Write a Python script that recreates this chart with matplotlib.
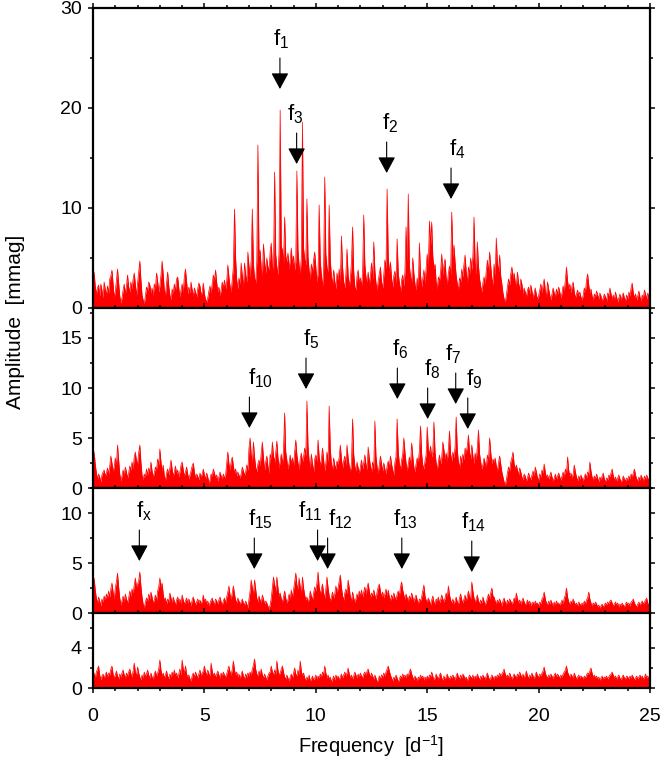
import numpy as np
import matplotlib
matplotlib.use("Agg")
import matplotlib.pyplot as plt
from matplotlib.ticker import MultipleLocator

plt.rcParams['font.family'] = ['Liberation Sans', 'DejaVu Sans']
plt.rcParams['mathtext.fontset'] = 'custom'
plt.rcParams['mathtext.rm'] = 'Liberation Sans'
plt.rcParams['mathtext.it'] = 'Liberation Sans'
plt.rcParams['mathtext.bf'] = 'Liberation Sans:bold'

FREQ_STEP = 0.05  # d^-1, spacing of the amplitude samples below

# ---- Panel 1: original data -------------------------------------------
amp1 = [
 2.8,3.6,2.2,1.4,2.0,2.3,1.2,2.4,1.8,1.0,2.6,1.9,1.3,2.2,1.5,2.9,3.2,3.8,2.4,1.1,
 1.6,2.7,3.9,2.5,1.2,0.5,1.0,1.8,2.4,1.4,2.2,3.3,2.1,1.6,2.6,1.9,2.9,3.5,2.4,1.2,
 2.5,3.6,4.7,2.8,1.3,0.8,0.4,1.2,2.1,1.7,2.6,2.3,1.5,2.0,1.2,2.4,1.9,3.5,2.7,1.6,
 2.2,3.3,4.7,3.4,1.8,1.2,2.5,3.6,2.2,1.3,0.8,1.9,1.5,2.4,1.7,2.9,3.1,2.0,1.1,1.8,
 2.4,1.6,3.2,3.9,2.6,1.4,2.1,1.5,2.6,1.8,1.2,2.0,1.6,1.1,1.9,2.5,2.2,1.3,1.6,2.5,
 1.4,0.9,0.6,1.0,1.7,2.2,1.5,2.4,3.3,2.7,3.8,2.6,1.6,2.1,1.2,1.8,2.6,2.0,2.8,1.9,
 2.7,4.3,3.1,2.2,1.6,2.9,4.1,9.9,5.0,2.8,1.9,3.0,2.4,4.5,3.2,2.1,4.5,3.3,2.6,5.6,
 4.2,3.1,4.8,9.9,4.4,3.0,2.5,4.6,16.3,5.2,5.8,3.9,3.2,6.4,4.7,3.5,5.0,4.1,3.8,5.6,
 6.5,4.2,3.6,13.6,5.4,4.1,3.3,5.6,19.8,6.2,5.8,4.4,9.1,5.2,4.6,5.5,3.9,4.8,6.0,4.3,
 5.2,3.8,4.6,13.7,5.8,4.2,3.5,5.0,18.6,6.0,4.9,4.3,10.9,5.1,3.7,2.9,4.4,3.6,4.8,5.6,
 4.1,2.6,3.4,10.3,4.7,3.3,2.1,3.9,13.1,5.4,4.0,3.6,10.3,4.8,3.2,2.4,3.8,2.7,1.9,3.5,
 2.8,3.9,2.5,7.2,4.1,2.6,2.0,3.4,5.9,3.3,2.2,3.0,4.6,8.1,3.7,2.1,1.8,3.2,3.8,2.5,
 3.0,2.2,3.5,9.3,4.4,3.1,2.6,3.6,2.4,3.2,4.5,2.9,6.6,3.8,2.5,1.8,2.7,3.4,4.1,2.6,
 2.0,3.3,4.8,3.9,11.9,5.2,3.4,4.6,3.0,2.1,3.2,3.7,2.4,6.9,3.5,2.5,1.6,2.8,3.3,2.2,
 3.6,8.1,4.6,11.4,4.2,3.1,2.6,5.0,3.5,2.4,1.8,3.0,2.2,6.5,3.3,2.1,2.9,3.8,2.5,3.9,
 5.4,4.1,8.7,6.3,8.6,5.2,3.9,4.4,2.6,1.9,3.1,2.7,3.6,5.4,3.3,4.3,4.9,3.0,2.4,3.5,
 4.2,3.3,9.6,5.1,6.3,4.6,3.2,2.4,1.8,3.0,2.6,3.9,3.1,4.4,5.3,3.6,2.5,4.1,3.4,5.0,
 3.8,5.2,9.1,4.6,3.3,6.6,4.2,2.9,2.2,1.6,2.5,3.1,2.4,3.7,4.8,3.5,5.6,4.2,3.0,2.3,
 4.4,3.2,7.0,4.5,3.6,5.3,3.2,2.4,1.5,0.9,0.6,1.2,2.1,2.9,2.3,3.4,4.1,3.0,3.5,2.6,
 2.2,3.6,2.5,1.8,2.9,2.4,1.4,2.0,1.6,1.1,1.8,2.1,1.4,2.3,1.7,1.0,1.5,2.0,1.3,0.9,
 1.2,1.8,2.4,1.5,2.3,2.9,1.7,1.1,2.6,1.9,1.3,0.8,1.4,2.0,1.5,1.1,1.9,1.4,2.1,1.6,
 1.0,1.5,2.2,1.7,2.8,4.1,2.7,1.9,2.4,1.5,2.2,2.6,1.6,1.0,1.4,1.8,1.2,1.6,1.1,0.8,
 1.3,2.0,1.6,2.8,3.4,2.3,1.5,1.9,1.2,0.8,1.4,1.1,1.7,1.3,0.9,1.5,1.2,0.7,1.0,1.4,
 1.1,0.7,1.5,1.2,2.0,1.4,0.9,1.3,0.8,1.6,1.1,0.6,1.0,1.4,0.8,1.2,1.5,1.0,0.7,1.3,
 0.9,1.6,1.2,2.0,2.5,1.5,1.0,1.4,0.8,1.2,1.7,1.1,0.7,1.3,1.0,1.8,1.4,0.9,1.5,1.1,
 1.2]

# ---- Panel 2 ------------------------------------------------------------
amp2 = [
 2.6,3.6,2.4,1.5,0.9,1.4,1.1,0.6,1.3,1.6,1.8,1.2,1.5,2.0,1.4,2.2,3.2,2.5,1.7,2.1,
 3.0,2.2,4.3,2.8,1.4,0.7,1.2,1.8,1.3,2.1,1.6,1.0,1.5,2.2,1.8,2.6,1.9,3.1,3.6,2.7,
 2.4,3.5,4.3,2.6,1.3,0.8,1.4,1.1,1.9,1.3,2.0,1.6,2.6,1.7,1.1,1.5,2.1,1.8,2.9,2.3,
 3.9,2.6,1.7,2.3,1.2,0.7,1.5,1.9,1.3,2.0,2.8,1.9,1.2,1.6,2.2,1.4,1.8,1.1,1.6,2.3,
 2.6,1.8,1.2,1.6,2.1,1.4,0.9,1.3,1.7,2.2,2.5,1.6,1.0,1.4,1.2,0.8,1.5,1.1,1.4,1.9,
 1.3,0.9,1.5,1.1,0.5,0.8,1.4,1.2,1.9,1.5,1.0,1.3,0.7,1.1,1.6,1.2,0.9,1.4,1.0,1.3,
 2.5,3.6,2.4,1.8,2.6,3.1,2.2,1.5,1.9,1.2,1.6,1.3,1.0,1.4,2.1,1.7,1.3,1.6,2.3,1.8,
 4.0,5.0,3.3,2.5,4.6,3.1,2.1,1.6,2.4,2.8,2.2,3.5,4.6,3.0,1.8,2.6,3.2,2.2,1.5,3.4,
 2.9,4.6,3.2,2.6,3.5,4.7,3.1,2.0,2.7,3.4,2.3,3.8,7.5,3.6,2.8,1.9,2.5,3.3,2.4,3.0,
 2.2,3.6,4.8,3.3,2.5,1.8,2.9,3.5,2.6,3.1,4.0,3.2,8.7,4.2,2.7,2.0,3.4,2.4,1.6,2.9,
 3.3,2.6,4.8,3.1,2.2,2.9,4.0,2.8,1.7,2.5,3.6,2.6,8.2,3.9,2.4,1.8,3.0,2.3,1.9,2.7,
 2.4,3.1,4.3,2.9,2.0,2.7,3.2,2.3,4.3,3.0,2.2,1.6,2.5,6.9,3.4,2.2,1.7,2.6,2.0,1.5,
 2.1,2.8,1.9,2.5,3.3,2.4,1.8,4.1,3.0,2.2,1.6,2.6,1.9,6.7,3.2,2.1,1.5,2.3,3.2,2.4,
 1.7,2.5,1.9,1.4,2.2,2.7,2.0,3.2,2.4,1.8,1.3,2.6,3.1,6.9,3.6,2.4,1.9,2.8,3.4,5.0,
 3.6,2.5,1.7,2.4,3.1,2.3,4.5,3.2,2.1,1.6,2.4,3.0,2.6,3.8,6.2,3.4,2.3,1.9,2.7,3.3,
 6.1,3.9,3.4,4.2,3.1,3.6,6.6,3.7,2.5,1.8,2.6,3.3,2.4,3.0,4.6,3.8,2.9,3.5,2.7,3.9,
 5.7,3.4,2.7,3.6,3.0,4.1,7.1,3.8,2.6,2.0,3.2,2.5,3.4,2.8,4.0,3.5,4.2,5.3,3.6,2.9,
 4.3,3.2,2.4,3.5,2.8,4.1,5.8,3.4,2.6,1.9,2.3,3.0,2.5,2.1,3.3,2.7,5.0,3.6,2.4,2.9,
 2.6,3.0,2.2,1.7,2.5,3.2,2.4,1.6,1.1,0.6,0.3,0.8,1.5,2.1,1.7,2.6,3.0,3.6,2.4,1.9,
 2.3,1.8,1.3,2.0,1.6,1.1,0.8,1.4,1.2,0.7,1.0,1.5,1.1,0.8,1.3,1.7,1.2,2.1,1.6,1.0,
 0.8,1.4,1.1,1.8,1.5,2.4,1.6,1.0,1.3,0.9,1.2,1.6,1.1,0.7,1.0,1.4,0.9,1.2,1.5,1.1,
 0.8,1.2,1.6,1.1,1.9,1.4,3.1,1.8,1.2,1.5,1.0,1.4,2.3,1.6,1.1,0.7,1.2,0.9,1.3,1.0,
 0.7,1.1,1.4,1.0,1.6,1.3,2.6,1.7,1.1,0.8,1.2,0.9,1.4,1.0,0.6,1.1,0.8,1.2,1.5,0.9,
 0.6,1.0,0.8,1.3,1.1,1.5,1.9,1.2,0.8,1.1,0.7,1.0,1.3,0.9,0.6,0.8,1.2,0.9,0.7,1.0,
 0.8,1.2,0.9,1.4,1.1,1.5,1.9,1.3,0.9,0.7,1.1,0.8,1.3,1.0,0.7,1.2,0.9,1.3,1.0,0.8,
 1.1]

# ---- Panel 3 ------------------------------------------------------------
amp3 = [
 2.7,3.5,2.3,1.5,1.0,1.6,1.2,0.7,1.4,1.1,1.7,1.3,1.9,1.5,2.2,1.6,2.4,3.0,2.1,1.4,
 2.5,3.1,4.0,2.6,1.5,0.8,1.2,1.7,1.1,1.9,1.4,1.0,1.5,2.2,1.7,2.4,2.0,2.8,3.5,2.6,
 2.9,3.2,4.1,2.7,1.6,0.9,0.5,1.1,1.5,1.2,1.9,1.4,2.1,1.6,1.0,1.3,1.8,1.2,2.2,2.6,
 3.5,2.6,3.0,1.9,1.2,1.5,0.9,1.4,1.1,2.0,1.5,1.0,1.6,1.2,0.8,1.3,1.6,1.1,1.4,0.9,
 1.8,1.3,0.9,1.2,1.5,1.0,1.4,1.1,0.7,1.3,1.6,1.2,0.8,1.1,1.4,1.0,1.3,0.9,1.2,1.8,
 1.1,1.4,0.9,1.2,0.7,1.0,1.3,1.5,1.1,0.8,1.4,1.2,0.9,1.3,1.6,1.1,0.8,1.2,1.5,1.0,
 1.6,2.1,2.7,1.8,1.4,2.0,2.7,1.9,1.3,1.0,1.5,1.2,0.9,1.1,1.4,1.0,0.8,1.2,0.9,0.5,
 1.4,2.2,3.3,2.5,1.8,3.3,2.4,1.5,1.1,1.7,1.3,1.0,1.8,1.4,0.9,1.2,1.0,0.7,0.4,0.8,
 1.5,2.6,3.6,2.8,2.2,3.6,2.5,1.7,2.0,1.4,1.1,1.6,2.2,1.5,1.0,1.3,1.9,1.4,2.3,1.6,
 2.3,3.1,4.0,2.8,2.4,3.5,2.6,1.9,3.6,2.5,1.8,1.3,1.6,1.1,1.4,2.2,1.7,1.3,2.0,2.6,
 2.2,3.0,4.1,2.6,1.9,2.4,2.9,2.0,1.5,2.4,3.6,2.5,1.7,1.2,1.6,2.1,1.5,1.9,2.7,2.1,
 2.5,3.2,3.8,2.6,1.7,1.3,2.0,2.4,1.9,3.3,2.5,1.6,1.2,2.1,1.5,1.1,1.4,1.9,1.6,2.2,
 1.7,2.3,1.6,2.1,2.6,1.9,2.5,3.0,2.2,1.5,2.0,1.7,2.3,1.8,1.4,2.1,2.6,2.9,2.2,1.6,
 2.1,1.5,1.9,2.4,1.7,2.3,1.6,1.2,1.8,1.4,2.0,1.6,1.3,1.9,2.2,1.7,2.6,3.1,2.3,1.8,
 1.4,1.9,1.5,1.2,1.7,1.3,2.0,1.6,1.1,1.5,1.8,1.3,0.9,1.4,1.2,1.6,2.2,2.8,1.7,1.3,
 1.1,1.5,1.2,0.8,1.3,1.7,1.1,0.9,1.4,1.2,1.6,1.0,1.3,1.8,1.4,1.1,1.5,2.0,1.6,2.7,
 1.8,1.3,1.0,1.4,0.9,1.2,1.6,1.1,0.8,1.5,1.9,1.3,1.0,1.4,1.8,1.2,1.7,2.2,1.6,1.4,
 3.1,2.2,1.5,1.1,1.4,1.8,1.2,0.9,1.3,1.0,1.6,1.2,0.8,1.1,1.5,1.9,1.4,2.0,2.5,1.7,
 1.6,1.2,0.9,1.3,1.0,1.4,1.1,0.7,1.2,1.5,1.1,0.8,1.3,1.0,1.4,1.2,0.9,1.1,1.5,1.2,
 2.0,1.4,1.0,1.3,0.9,1.2,1.5,1.1,0.8,1.0,1.3,0.9,1.2,0.7,1.0,1.1,0.8,1.2,0.9,1.0,
 0.7,1.1,0.9,1.4,1.6,2.1,1.4,1.0,0.8,1.2,0.9,1.3,1.0,0.7,1.1,0.8,1.2,0.9,1.0,0.8,
 1.0,1.3,0.9,1.5,1.8,2.5,1.6,1.1,0.9,1.2,1.0,1.4,1.1,0.8,1.0,0.7,1.1,0.9,0.8,1.0,
 0.8,1.2,0.9,1.3,1.5,2.1,1.4,1.0,0.7,1.0,0.8,1.1,0.9,0.6,0.8,0.5,0.7,0.9,0.6,0.8,
 1.0,0.8,1.1,0.9,1.2,1.3,1.0,0.7,0.9,1.1,0.8,1.0,0.6,0.9,0.7,1.0,0.8,0.6,0.9,1.1,
 0.8,1.0,0.7,1.1,1.2,1.4,1.0,0.8,0.6,0.9,1.1,0.8,1.0,1.2,0.9,1.1,1.3,1.5,1.0,0.8,
 1.0]

# ---- Panel 4: residuals -------------------------------------------------
amp4 = [
 1.2,1.5,1.0,1.6,1.9,2.2,1.3,0.8,1.2,1.4,1.0,1.3,1.6,1.1,1.5,1.3,1.9,2.2,1.4,1.0,
 1.3,1.7,1.2,0.9,1.4,1.1,1.5,1.8,1.3,1.0,1.5,1.2,1.6,1.9,1.4,1.1,1.7,2.5,1.6,1.2,
 2.1,1.5,1.1,0.8,1.3,1.0,1.6,1.2,1.4,1.8,1.3,1.0,1.5,1.1,0.9,1.4,1.7,1.2,1.5,1.9,
 2.8,1.8,1.2,1.5,1.0,1.3,1.7,1.2,0.9,1.4,1.1,1.6,1.3,1.8,1.2,1.5,1.0,1.4,1.9,1.3,
 2.8,1.9,1.5,2.2,1.4,1.1,1.3,0.9,0.7,1.2,1.5,1.1,1.6,1.3,1.0,1.4,1.8,1.2,1.5,1.7,
 2.2,1.6,1.3,1.8,1.4,1.2,2.5,1.7,1.2,1.5,1.1,1.4,1.7,1.3,1.0,1.5,1.2,1.6,1.3,1.1,
 1.4,1.8,2.2,1.6,1.3,1.9,2.7,1.8,1.3,1.6,1.1,1.4,1.0,1.3,1.7,1.2,0.9,1.4,1.1,1.5,
 1.2,1.6,1.3,1.9,2.3,2.9,1.9,1.4,1.2,1.7,1.4,1.9,1.3,1.0,1.4,1.1,0.8,1.2,1.5,1.6,
 2.2,1.6,1.3,1.8,1.4,2.7,1.8,1.3,1.5,1.9,2.2,1.6,1.1,0.9,1.3,1.0,0.7,1.1,1.4,1.0,
 1.5,2.0,1.4,1.2,1.8,1.3,2.7,1.7,1.2,1.5,1.0,0.8,1.1,0.9,1.3,0.7,0.9,1.2,0.8,1.0,
 1.3,0.9,1.2,1.0,1.4,1.1,1.6,1.3,2.2,1.5,1.0,1.3,0.9,1.1,0.6,0.9,1.2,0.8,1.3,1.0,
 1.2,0.8,1.1,1.4,1.0,1.3,1.6,1.2,1.5,2.0,1.4,1.0,1.3,0.9,1.2,1.6,1.3,1.0,1.4,1.1,
 1.5,1.2,1.0,1.4,1.6,1.3,1.7,1.9,1.4,1.1,1.5,1.2,0.9,1.3,1.0,0.6,0.8,1.2,0.9,1.3,
 1.1,1.5,1.2,1.6,1.9,2.2,1.7,1.3,1.0,0.7,1.1,0.9,1.3,1.0,0.6,0.9,1.2,1.0,1.4,1.1,
 1.3,1.0,1.4,1.2,1.6,1.9,1.4,1.1,0.8,1.2,1.0,0.7,1.1,0.9,1.3,1.0,1.2,0.8,1.1,0.9,
 1.2,0.9,1.3,1.1,1.6,1.2,0.8,1.0,1.4,1.1,0.9,1.3,1.5,1.0,0.8,1.2,0.9,1.1,1.4,1.0,
 0.9,1.2,1.0,1.3,1.1,0.8,1.2,1.5,1.1,0.9,1.3,1.0,1.4,1.2,0.9,1.1,0.7,1.0,1.3,1.1,
 1.0,1.3,0.9,1.2,1.0,1.4,1.1,0.8,1.2,1.0,1.3,1.1,0.9,1.2,1.5,1.1,0.8,1.0,1.3,1.1,
 0.9,1.2,1.0,1.3,1.1,1.5,1.2,1.4,1.6,1.9,1.4,1.1,1.3,1.0,1.5,1.2,0.9,1.1,1.4,1.2,
 1.0,1.4,1.2,1.6,1.3,1.1,1.4,1.0,1.3,1.7,1.2,1.0,1.3,1.1,1.5,1.2,0.9,1.3,1.6,1.2,
 1.1,1.4,1.2,1.5,1.7,2.1,1.5,1.2,1.0,1.3,1.1,1.4,1.2,0.9,1.3,1.5,1.1,1.4,1.2,1.0,
 1.3,1.1,1.4,1.6,1.8,2.2,1.6,1.3,1.1,1.4,1.2,1.0,1.5,1.2,0.9,1.1,1.3,1.0,1.2,1.1,
 0.9,1.2,1.0,1.3,1.5,1.4,1.7,2.0,1.5,1.1,1.3,1.0,1.2,0.9,1.1,0.8,1.0,1.2,0.9,1.1,
 1.0,1.2,0.9,1.1,1.3,1.4,1.6,1.3,1.0,1.2,0.9,1.1,1.3,1.0,0.8,1.1,1.3,1.0,0.9,1.2,
 1.1,0.9,1.2,1.0,1.3,1.1,0.8,1.0,1.2,0.9,1.1,1.3,1.0,1.2,0.9,1.1,1.4,1.0,1.2,0.9,
 1.0]

# ---- Frequency markers (label, frequency, arrow-tip amplitude, label shift px)
lab1 = ['1', '3', '2', '4']
frq1 = [8.39, 9.14, 13.18, 16.07]
tip1 = [21.9, 14.4, 13.5, 10.9]
dx1 = [1, -2, 3, 6]

lab2 = ['10', '5', '6', '8', '7', '9']
frq2 = [7.02, 9.56, 13.66, 15.02, 16.28, 16.82]
tip2 = [6.0, 9.9, 8.9, 6.9, 8.4, 5.9]
dx2 = [11, 5, 3, 4, -3, 6]

lab3 = ['x', '15', '11', '12', '13', '14']
frq3 = [2.08, 7.24, 10.08, 10.53, 13.86, 17.0]
tip3 = [5.2, 4.4, 5.2, 4.4, 4.4, 4.1]
dx3 = [5, 6, -7, 13, 4, 2]

lab4, frq4, tip4, dx4 = [], [], [], []

ymax = [30, 18, 12.5, 7.5]
ymajor = [10, 5, 5, 4]
yminor = [5, 2.5, 2.5, 2]

panels = [
    (amp1, lab1, frq1, tip1, dx1),
    (amp2, lab2, frq2, tip2, dx2),
    (amp3, lab3, frq3, tip3, dx3),
    (amp4, lab4, frq4, tip4, dx4),
]

W, H = 667, 763
fig = plt.figure(figsize=(W / 100, H / 100), dpi=100)
gs = fig.add_gridspec(4, 1, height_ratios=ymax, hspace=0,
                      left=93 / W, right=650 / W, top=1 - 8 / H, bottom=1 - 688 / H)

RED = '#ff0000'
for i, (amp, labs, frqs, tips, dxs) in enumerate(panels):
    ax = fig.add_subplot(gs[i])
    amp = np.asarray(amp)
    freq = np.arange(len(amp)) * FREQ_STEP
    ax.fill_between(freq, 0, amp, color=RED, linewidth=0)
    ax.plot(freq, amp, color=RED, lw=0.5)
    ax.set_xlim(0, 25)
    ax.set_ylim(0, ymax[i])
    ax.xaxis.set_major_locator(MultipleLocator(5))
    ax.xaxis.set_minor_locator(MultipleLocator(1))
    ax.yaxis.set_major_locator(MultipleLocator(ymajor[i]))
    ax.yaxis.set_minor_locator(MultipleLocator(yminor[i]))
    ax.tick_params(which='both', direction='out', top=True, right=True,
                   width=1.1, labelsize=14, color='black')
    ax.tick_params(which='major', length=3.6)
    ax.tick_params(which='minor', length=2.3)
    ax.tick_params(axis='y', pad=4.5)
    ax.tick_params(axis='x', pad=11)
    if i < 3:
        ax.tick_params(labelbottom=False)
    for sp in ax.spines.values():
        sp.set_linewidth(1.6)
        sp.set_zorder(5)

    for lab, f, tip, dx in zip(labs, frqs, tips, dxs):
        ax.annotate('', xy=(f, tip), xytext=(0, 22.3), textcoords='offset points',
                    arrowprops=dict(arrowstyle='-|>,head_length=1.0,head_width=0.54',
                                    mutation_scale=10, lw=0.8, color='black',
                                    shrinkA=0, shrinkB=0),
                    annotation_clip=False)
        ax.annotate(r'$f_{%s}$' % lab, xy=(f, tip), xytext=(dx * 0.72, 27.5),
                    textcoords='offset points', ha='center', va='bottom',
                    fontsize=16, annotation_clip=False)

fig.text(16 / W, 1 - 322 / H, 'Amplitude  [mmag]', rotation=90,
         ha='center', va='center', fontsize=15)
fig.text(371 / W, 1 - 746 / H, r'Frequency  [d$^{-1}$]',
         ha='center', va='center', fontsize=14.5)

fig.savefig('out.png', dpi=100)
